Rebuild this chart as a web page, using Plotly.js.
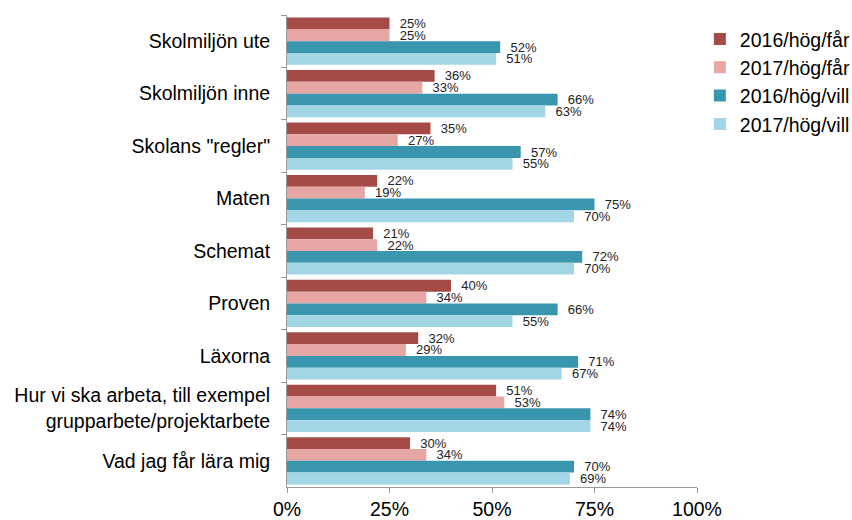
<!DOCTYPE html>
<html><head><meta charset="utf-8">
<script src="https://cdn.plot.ly/plotly-3.0.1.min.js"></script>
<style>body{margin:0;background:#fff}#c{width:852px;height:520px}</style>
</head><body><div id="c"></div>
<script>
const categories = ["Skolmiljön ute","Skolmiljön inne","Skolans \"regler\"","Maten","Schemat","Proven","Läxorna","Hur vi ska arbeta, till exempel<br>grupparbete/projektarbete","Vad jag får lära mig"];
const seriesNames = ["2016/hög/får","2017/hög/får","2016/hög/vill","2017/hög/vill"];
const s2016far = [25,36,35,22,21,40,32,51,30];
const s2017far = [25,33,27,19,22,34,29,53,34];
const s2016vill = [52,66,57,75,72,66,71,74,70];
const s2017vill = [51,63,55,70,70,55,67,74,69];
const colors = ["#A54B47","#E5A6A4","#3A96AE","#A2D6E4"];
const xTickVals = [0,25,50,75,100];
const xTickText = ["0%","25%","50%","75%","100%"];

const series = [s2016far,s2017far,s2016vill,s2017vill];
const traces = series.map((vals,i)=>({
  type:'bar', orientation:'h', name:seriesNames[i], y:categories, x:vals,
  marker:{color:colors[i]},
  text: vals.map(v=>'\u00a0\u00a0'+v+'%'), textposition:'outside', cliponaxis:false, constraintext:'none',
  textfont:{family:'Liberation Sans, Arial, sans-serif', size:13, color:'#222'}
}));
Plotly.newPlot('c', traces, {
  width:852, height:520,
  margin:{l:287,r:155,t:15,b:33,autoexpand:false},
  barmode:'group', bargap:0.1, bargroupgap:0,
  font:{family:'Liberation Sans, Arial, sans-serif', color:'#000'},
  paper_bgcolor:'#fff', plot_bgcolor:'#fff',
  xaxis:{range:[0,100], tickvals:xTickVals, ticktext:xTickText, showgrid:false, zeroline:false,
    showline:true, linecolor:'#999', ticks:'outside', ticklen:5, tickcolor:'#999',
    tickfont:{size:19.5}},
  yaxis:{autorange:'reversed', showgrid:false, showline:true, linecolor:'#999',
    ticks:'outside', tickson:'boundaries', ticklen:5, tickcolor:'#999',
    tickfont:{size:19.5}, ticklabelstandoff:12},
  legend:{x:1.007, xanchor:'left', y:0.99, yanchor:'top', font:{size:19.5}, tracegroupgap:0,
    itemwidth:30, traceorder:'normal'},
  showlegend:true
}, {displayModeBar:false, staticPlot:true});
</script></body></html>
